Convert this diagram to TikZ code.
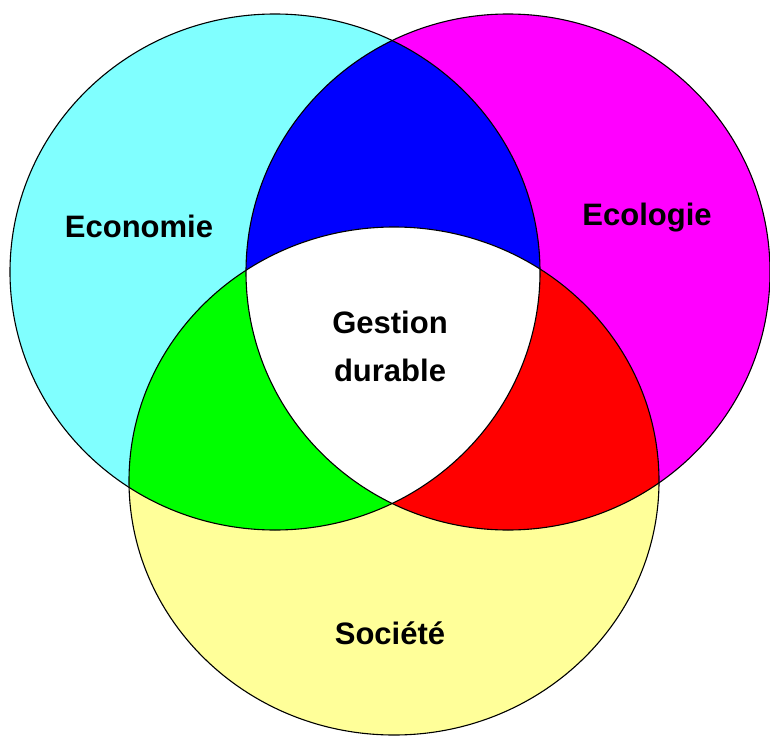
\documentclass[tikz,border=0pt]{standalone}
\usepackage{fontspec}
\setmainfont{Liberation Sans}
\begin{document}
\begin{tikzpicture}[x=1pt,y=-1pt,
  lbl/.style={font=\fontsize{31}{48}\selectfont\bfseries, align=center, inner sep=0pt},
  outline/.style={draw=black, line width=1.1pt}]
\definecolor{cyanc}{RGB}{128,255,255}
\definecolor{magc}{RGB}{255,0,255}
\definecolor{yelc}{RGB}{255,255,153}
\definecolor{bluec}{RGB}{0,0,255}
\definecolor{greenc}{RGB}{0,255,0}
\definecolor{redc}{RGB}{255,0,0}
\useasboundingbox (0,0) rectangle (770,738);
\def\ecopath{(275,272) ellipse [x radius=265, y radius=258]}
\def\ecolpath{(508,272) ellipse [x radius=262, y radius=258]}
\def\socpath{(394,481) ellipse [x radius=265, y radius=254]}
% base fills
\fill[cyanc] \ecopath;
\fill[magc] \ecolpath;
\fill[yelc] \socpath;
% pairwise intersections
\begin{scope}\clip \ecopath; \fill[bluec] \ecolpath; \end{scope}
\begin{scope}\clip \ecopath; \fill[greenc] \socpath; \end{scope}
\begin{scope}\clip \ecolpath; \fill[redc] \socpath; \end{scope}
\begin{scope}\clip \ecopath; \clip \ecolpath; \fill[white] \socpath; \end{scope}
% outlines
\draw[outline] \ecopath;
\draw[outline] \ecolpath;
\draw[outline] \socpath;
% labels
\node[lbl] (eco) at (139,226) {Economie};
\node[lbl] (ecol) at (647,218) {Ecologie};
\node[lbl] (gest) at (390,346) {Gestion\\durable};
\node[lbl] (soc) at (390,633) {Société};
\end{tikzpicture}
\end{document}
